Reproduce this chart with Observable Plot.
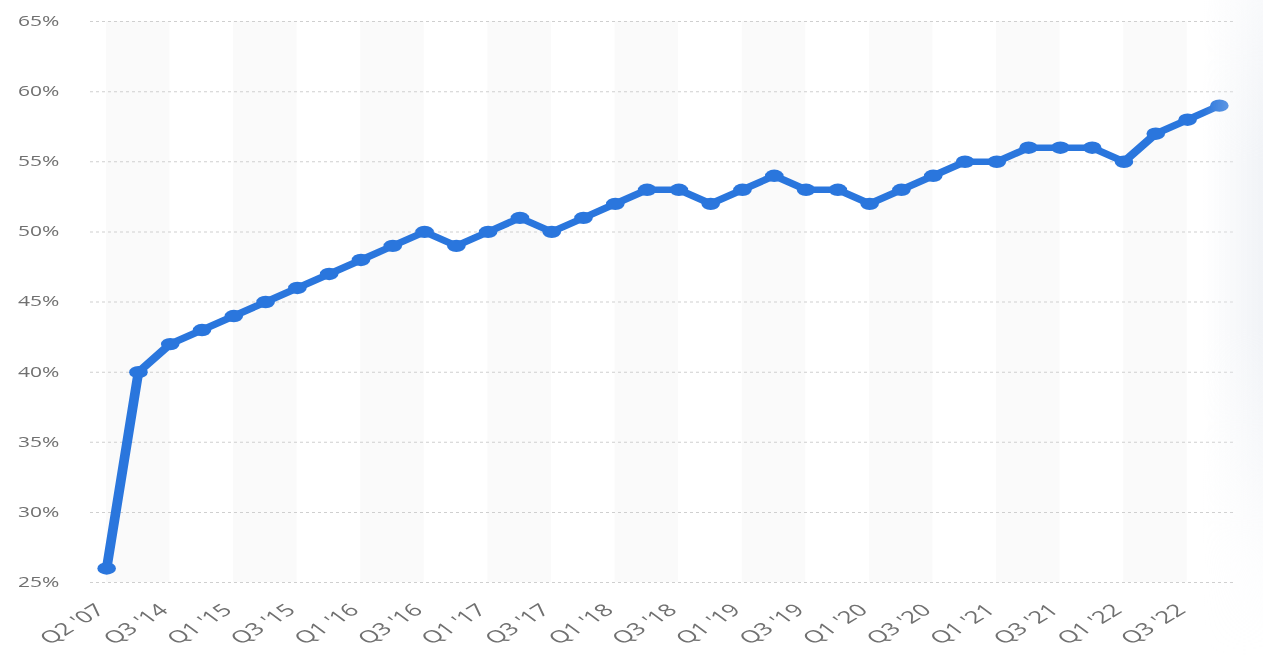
<!DOCTYPE html>
<html>
<head>
<meta charset="utf-8">
<script src="https://cdn.jsdelivr.net/npm/d3@7"></script>
<script src="https://cdn.jsdelivr.net/npm/@observablehq/plot@0.6"></script>
<style>
  html, body { margin: 0; padding: 0; background: #fff; overflow: hidden; }
  #page { position: relative; width: 1263px; height: 656px; overflow: hidden; }
  /* the chart is laid out narrow and widened horizontally */
  #chart { position: absolute; left: 0; top: 0; width: 842px; transform: scaleX(1.5); transform-origin: 0 0; }
  #shade {
    position: absolute; right: 0; top: 0; width: 60px; height: 656px; pointer-events: none;
    background: linear-gradient(to right, rgba(236,239,244,0) 0%, rgba(236,239,244,0.75) 100%);
    -webkit-mask-image: linear-gradient(to bottom, rgba(0,0,0,0.5) 0%, #000 25%, #000 50%, rgba(0,0,0,0.2) 85%, rgba(0,0,0,0) 100%);
    mask-image: linear-gradient(to bottom, rgba(0,0,0,0.5) 0%, #000 25%, #000 50%, rgba(0,0,0,0.2) 85%, rgba(0,0,0,0) 100%);
  }
</style>
</head>
<body>
<div id="page">
  <div id="chart"></div>
  <div id="shade"></div>
</div>
<script>
// Quarters on the x axis
const quarters = [
  "Q2 '07", "Q2 '14", "Q3 '14", "Q4 '14",
  "Q1 '15", "Q2 '15", "Q3 '15", "Q4 '15",
  "Q1 '16", "Q2 '16", "Q3 '16", "Q4 '16",
  "Q1 '17", "Q2 '17", "Q3 '17", "Q4 '17",
  "Q1 '18", "Q2 '18", "Q3 '18", "Q4 '18",
  "Q1 '19", "Q2 '19", "Q3 '19", "Q4 '19",
  "Q1 '20", "Q2 '20", "Q3 '20", "Q4 '20",
  "Q1 '21", "Q2 '21", "Q3 '21", "Q4 '21",
  "Q1 '22", "Q2 '22", "Q3 '22", "Q4 '22"
];

// Share in percent for each quarter
const shares = [
  26, 40, 42, 43,
  44, 45, 46, 47,
  48, 49, 50, 49,
  50, 51, 50, 51,
  52, 53, 53, 52,
  53, 54, 53, 53,
  52, 53, 54, 55,
  55, 56, 56, 56,
  55, 57, 58, 59
];

// Y axis ticks
const yTicks = [25, 30, 35, 40, 45, 50, 55, 60, 65];

const data = quarters.map((q, i) => ({i, quarter: q, share: shares[i]}));
const labelTicks = data.filter(d => d.i % 2 === 0).map(d => d.i);
const stripeStarts = data.filter(d => d.i % 4 === 0).map(d => d.i);

const blue = "#2a76dd";
const grey = "#707070";

const chart = Plot.plot({
  width: 842,
  height: 656,
  marginLeft: 60,
  marginRight: 19,
  marginTop: 21,
  marginBottom: 74,
  style: { fontFamily: "'Open Sans', sans-serif", fontSize: "14px", color: grey, background: "transparent" },
  x: { type: "linear", domain: [-0.5, quarters.length - 0.5] },
  y: { domain: [25, 65] },
  marks: [
    Plot.rect(stripeStarts, {
      x1: d => d, x2: d => d + 2, y1: yTicks[0], y2: yTicks[yTicks.length - 1],
      fill: "#fafafa"
    }),
    Plot.ruleY(yTicks, { stroke: "#cfcfcf", strokeWidth: 1, strokeDasharray: "2,2" }),
    Plot.axisY(yTicks, {
      label: null, tickSize: 0, tickPadding: 21, tickFormat: d => d + "%", fill: grey, fontSize: 14
    }),
    Plot.axisX(labelTicks, {
      label: null, tickSize: 0, tickPadding: 22, tickRotate: -42, tickFormat: i => quarters[i],
      fill: grey, fontSize: 17, dx: -4, dy: 3
    }),
    Plot.line(data, { x: "i", y: "share", stroke: blue, strokeWidth: 6.5, strokeLinejoin: "round", strokeLinecap: "round" }),
    Plot.dot(data, { x: "i", y: "share", r: 6.2, fill: blue, stroke: "none" })
  ]
});

document.getElementById("chart").appendChild(chart);
</script>
</body>
</html>
